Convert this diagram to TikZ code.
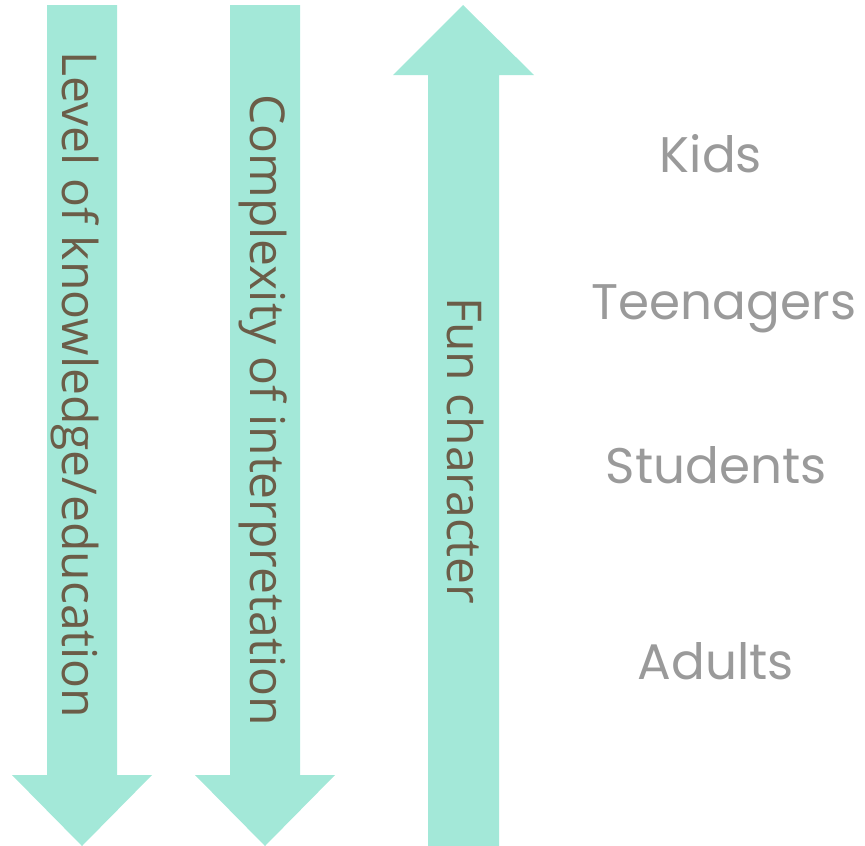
\documentclass[tikz,border=0pt]{standalone}
\usepackage{fontspec}
\setmainfont{Open Sans}
\newfontfamily\labelfont{Poppins}
\usetikzlibrary{positioning}
\definecolor{mint}{HTML}{A3E8D8}
\definecolor{bark}{HTML}{6B5D48}
\definecolor{ash}{HTML}{9A9A9A}
\tikzset{
  shaft/.style = {fill=mint, draw=none},
  axis/.style  = {text=bark, font=\fontsize{48}{52}\selectfont, rotate=-90, anchor=base, inner sep=0pt},
  group/.style = {text=ash, font=\labelfont\fontsize{50}{54}\selectfont, anchor=base, inner sep=0pt},
}
\begin{document}
\begin{tikzpicture}[x=1pt, y=-1pt]
  \useasboundingbox (0,0) rectangle (865,846);
  % two downward arrows and one upward arrow
  \fill[shaft] (47,5) -- (117,5) -- (117,775) -- (152,775) -- (82,846) -- (12,775) -- (47,775) -- cycle;
  \fill[shaft] (230,5) -- (300,5) -- (300,775) -- (335,775) -- (265,846) -- (195,775) -- (230,775) -- cycle;
  \fill[shaft] (428,846) -- (499,846) -- (499,75) -- (534,75) -- (463,5) -- (393,75) -- (428,75) -- cycle;
  % arrow captions
  \node[axis] (know) at (62,385) {Level of knowledge/education};
  \node[axis] (cplx) at (250,410) {Complexity of interpretation};
  \node[axis] (fun)  at (447,451) {Fun character};
  % audience groups
  \node[group] (kids)  at (711,172) {Kids};
  \node[group] (teens) at (724,319) {Teenagers};
  \node[group] (stud)  at (716,483) {Students};
  \node[group] (adult) at (716,679) {Adults};
\end{tikzpicture}
\end{document}
